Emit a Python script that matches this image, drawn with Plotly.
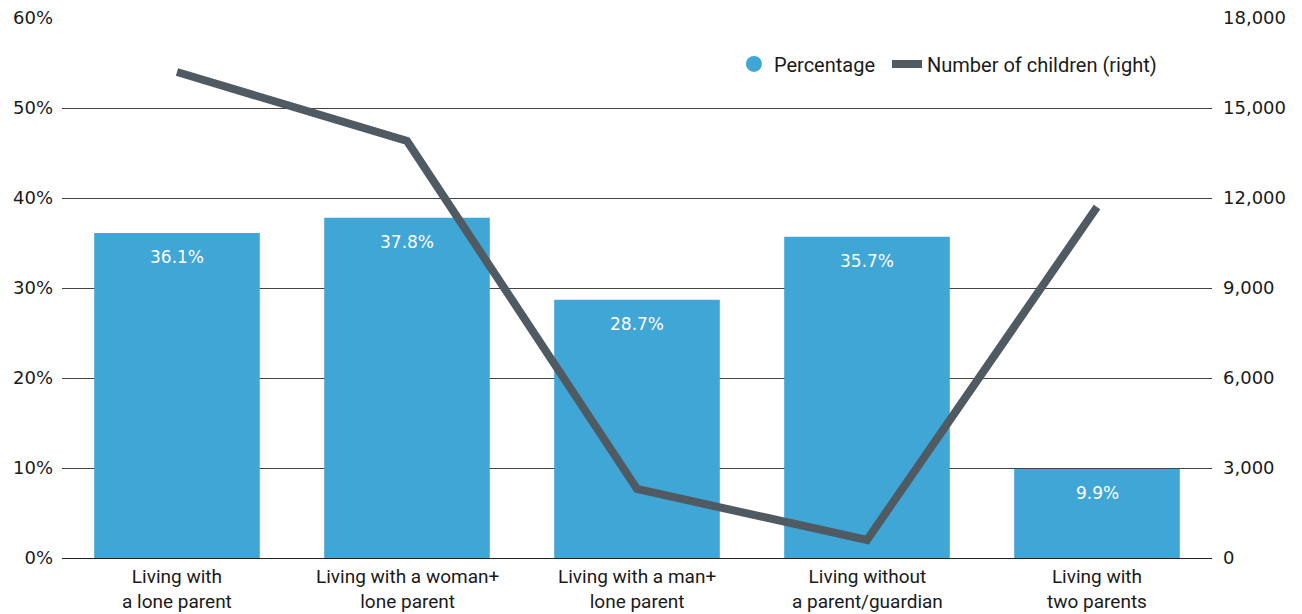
import plotly.graph_objects as go

categories = [
    "Living with a lone parent",
    "Living with a woman+ lone parent",
    "Living with a man+ lone parent",
    "Living without a parent/guardian",
    "Living with two parents",
]
label_lines = [
    ("Living with", "a lone parent"),
    ("Living with a woman+", "lone parent"),
    ("Living with a man+", "lone parent"),
    ("Living without", "a parent/guardian"),
    ("Living with", "two parents"),
]
percentage = [36.1, 37.8, 28.7, 35.7, 9.9]
children = [16200, 13900, 2300, 600, 11700]

BAR_BLUE = "#40a6d6"
LINE_GREY = "#4f5a62"
TEXT = "#1a1a1a"
TICK_FONT = dict(family="DejaVu Sans", size=18, color=TEXT)
LABEL_FONT = dict(family="Roboto", size=20, color=TEXT)

fig = go.Figure()

fig.add_trace(go.Bar(
    x=categories, y=percentage, marker=dict(color=BAR_BLUE, line=dict(width=0)),
    width=0.72, showlegend=False, hoverinfo="skip",
))

# legend entry with a round swatch for the bars
fig.add_trace(go.Scatter(
    x=[None], y=[None], mode="markers", name="Percentage", legend="legend",
    marker=dict(symbol="circle", size=20, color=BAR_BLUE),
))

fig.add_trace(go.Scatter(
    x=categories, y=children, yaxis="y2", mode="lines",
    name="Number of children (right)", legend="legend2",
    line=dict(color=LINE_GREY, width=8),
))

# value labels inside the top of each bar
for c, v in zip(categories, percentage):
    fig.add_annotation(
        x=c, y=v, text=f"{v:.1f}%", showarrow=False, yanchor="middle", yshift=-24,
        font=dict(family="DejaVu Sans", size=17, color="white"),
    )

# two-line category labels under the axis
for c, lines in zip(categories, label_lines):
    fig.add_annotation(
        x=c, y=0, yref="paper", text="<br>".join(lines), showarrow=False,
        yanchor="middle", yshift=-31, borderpad=0,
        font=dict(family="Roboto", size=19, color=TEXT),
    )

legend_style = dict(
    orientation="h", xanchor="left", y=0.915, yanchor="middle",
    font=LABEL_FONT, bgcolor="rgba(0,0,0,0)", itemwidth=30,
)

fig.update_layout(
    width=1302, height=614,
    margin=dict(l=62, r=90, t=18, b=56, autoexpand=False),
    paper_bgcolor="white", plot_bgcolor="white",
    showlegend=True,
    xaxis=dict(
        range=[-0.5, 4.5], showgrid=False, showline=False, ticks="",
        showticklabels=False, automargin=False,
    ),
    yaxis=dict(
        range=[0, 60], dtick=10, ticksuffix="%", showgrid=True,
        gridcolor="#444444", gridwidth=1, zeroline=True, zerolinecolor="#222222",
        zerolinewidth=1, showline=False, tickfont=TICK_FONT, ticklabelstandoff=8,
        automargin=False,
    ),
    yaxis2=dict(
        range=[0, 18000], dtick=3000, tickformat=",", overlaying="y", side="right",
        showgrid=False, zeroline=False, showline=False, tickfont=TICK_FONT,
        ticklabelstandoff=10, automargin=False,
    ),
    legend=dict(x=0.5843, **legend_style),
    legend2=dict(x=0.7174, **legend_style),
)

fig.write_html("out.html")
